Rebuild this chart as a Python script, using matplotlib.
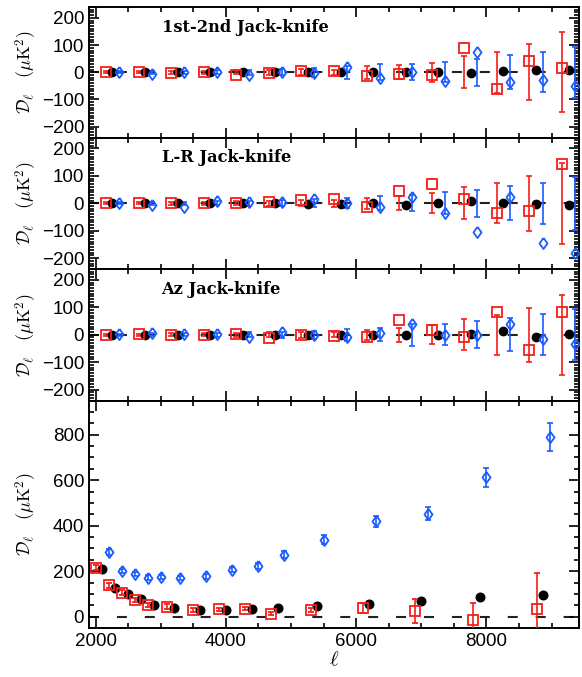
import numpy as np
import matplotlib
matplotlib.use("Agg")
import matplotlib.pyplot as plt
from matplotlib.ticker import MultipleLocator

plt.rcParams['font.family'] = ['Liberation Sans', 'DejaVu Sans']
plt.rcParams['mathtext.fontset'] = 'cm'

# ---------------- data ----------------
ell_null = [2260, 2760, 3260, 3760, 4260, 4760, 5260, 5760, 6260, 6760, 7260, 7760, 8260, 8760, 9260]

# 1st-2nd jack-knife
p1_red = [0, 0, -2, 1, -11, -4, 4, 4, -15, -5, -10, 89, -63, 40, 16]
p1_black = [0, 0, 0, 0, 0, 0, 0, 0, 0, 0, 0, -3, 5, 10, 7]
p1_blue = [0, -6, 1, 1, -10, 0, -4, 20, -21, 0, -34, 73, -37, -29, -49]
p1_red_err = [3, 4, 5, 6, 7, 9, 11, 10, 24, 26, 35, 58, 76, 103, 148]
p1_blue_err = [4, 5, 6, 7, 9, 11, 17, 23, 29, 30, 37, 50, 62, 74, 93]

# L-R jack-knife
p2_red = [0, 0, 0, 2, 0, 5, 12, 15, -13, 43, 72, 17, -37, -28, 145]
p2_black = [0, 0, 0, 0, 0, 0, -1, -2, 0, -5, 0, 8, 2, -1, -6]
p2_blue = [2, -5, -15, 7, 5, 6, 16, 0, -12, 21, -34, -104, 24, -144, -180]
p2_red_err = [3, 4, 5, 6, 7, 9, 11, 12, 20, 25, 36, 59, 73, 100, 147]
p2_blue_err = [4, 5, 6, 7, 9, 11, 15, 18, 25, 30, 40, 49, 62, 74, 97]

# Az jack-knife
p3_red = [0, 3, 0, 0, 4, -12, 0, -5, -7, 54, 16, -10, 84, -54, 83]
p3_black = [0, 0, 0, 0, 0, 0, 0, -1, -2, 0, -2, 2, 13, -7, 2]
p3_blue = [1, 5, 2, 4, -8, 10, -1, -7, 7, 39, 0, -2, 38, -17, -35]
p3_red_err = [3, 4, 5, 6, 7, 9, 11, 10, 18, 25, 34, 57, 73, 99, 146]
p3_blue_err = [4, 5, 6, 7, 9, 11, 15, 21, 24, 40, 38, 50, 60, 75, 93]

black_null_err = [1, 1, 1, 1, 1, 1, 2, 2, 3, 3, 4, 5, 6, 8, 10]

panel_titles = ['1st-2nd Jack-knife', 'L-R Jack-knife', 'Az Jack-knife']

# bandpowers
ell_bp = [2100, 2300, 2500, 2700, 2900, 3200, 3600, 4000, 4400, 4800, 5400, 6200, 7000, 7900, 8870]
bp_black = [210, 127, 98, 76, 53, 39, 29, 29, 35, 36, 47, 57, 70, 88, 95]
bp_red = [215, 137, 105, 73, 51, 44, 29, 32, 35, 13, 29, 39, 25, -16, 32]
bp_red_err = [10, 10, 10, 10, 10, 10, 8, 8, 8, 8, 8, 22, 51, 78, 161]
bp_blue = [283, 201, 188, 171, 175, 169, 178, 206, 222, 273, 339, 419, 453, 612, 791]
bp_blue_err = [14, 10, 10, 10, 10, 10, 11, 12, 12, 15, 18, 25, 28, 42, 62]

# ---------------- style ----------------
RED = '#f41f1a'
BLUE = '#1a5cff'
dx = 100
diamond = [(0, 1), (0.72, 0), (0, -1), (-0.72, 0), (0, 1)]

W, H = 582, 677
fig = plt.figure(figsize=(W / 100, H / 100), dpi=100)

left = 89 / W
width = (579 - 89) / W
edges = [7, 137.5, 269, 400.5, 628]


def make_ax(i):
    top, bot = edges[i], edges[i + 1]
    return fig.add_axes([left, 1 - bot / H, width, (bot - top) / H])


def style(ax, ymaj, ymin):
    ax.set_xlim(1900, 9420)
    ax.xaxis.set_major_locator(MultipleLocator(2000))
    ax.xaxis.set_minor_locator(MultipleLocator(500))
    ax.yaxis.set_major_locator(MultipleLocator(ymaj))
    ax.yaxis.set_minor_locator(MultipleLocator(ymin))
    ax.tick_params(which='both', direction='in', top=True, right=True, labelsize=13.5, width=1.2)
    ax.tick_params(which='major', length=7)
    ax.tick_params(which='minor', length=3.5)
    for s in ax.spines.values():
        s.set_linewidth(1.4)


def zero_line(ax):
    ax.axhline(0, color='#222222', lw=1.5, ls=(0, (4.8, 8.6)), zorder=1)


null_sets = [
    (p1_red, p1_black, p1_blue, p1_red_err, p1_blue_err),
    (p2_red, p2_black, p2_blue, p2_red_err, p2_blue_err),
    (p3_red, p3_black, p3_blue, p3_red_err, p3_blue_err),
]

ell_n = np.array(ell_null)
for i, (r, k, b, re, be) in enumerate(null_sets):
    ax = make_ax(i)
    zero_line(ax)
    # error bars centred on zero (null expectation)
    ax.errorbar(ell_n - dx, np.zeros(len(ell_n)), yerr=re, fmt='none', ecolor=RED,
                elinewidth=1.2, capsize=2.5, capthick=1.2, zorder=2)
    ax.errorbar(ell_n + dx, np.zeros(len(ell_n)), yerr=be, fmt='none', ecolor=BLUE,
                elinewidth=1.2, capsize=2.5, capthick=1.2, zorder=2)
    ax.errorbar(ell_n, k, yerr=black_null_err, fmt='o', color='black', ms=6,
                elinewidth=1.2, capsize=2, zorder=3)
    ax.plot(ell_n - dx, r, ls='none', marker='s', ms=6.8, mfc='none', mec=RED, mew=1.3, zorder=4)
    ax.plot(ell_n + dx, b, ls='none', marker=diamond, ms=8, mfc='none', mec=BLUE, mew=1.3, zorder=4)
    ax.set_ylim(-240, 240)
    style(ax, 100, 10)
    ax.set_xticklabels([])
    ax.text(0.148, 0.845, panel_titles[i], transform=ax.transAxes, ha='left', va='center',
            fontsize=11.7, fontweight='bold', family=['DejaVu Serif'])
    yc = 1 - (edges[i] + edges[i + 1]) / 2 / H
    fig.text(26 / W, yc, r'$\mathcal{D}_\ell$   $(\mu\mathrm{K}^2)$', rotation=90,
             ha='center', va='center', fontsize=13)

# bottom panel
ax = make_ax(3)
zero_line(ax)
e_bp = np.array(ell_bp)
ax.errorbar(e_bp - dx, bp_red, yerr=bp_red_err, fmt='s', ms=6.8, mfc='none', mec=RED, mew=1.3,
            ecolor=RED, elinewidth=1.2, capsize=2.5, capthick=1.2, zorder=3)
ax.plot(e_bp, bp_black, ls='none', marker='o', color='black', ms=6.2, zorder=2)
ax.errorbar(e_bp + dx, bp_blue, yerr=bp_blue_err, fmt='none', ecolor=BLUE,
            elinewidth=1.2, capsize=2.5, capthick=1.2, zorder=3)
ax.plot(e_bp + dx, bp_blue, ls='none', marker=diamond, ms=8, mfc='none', mec=BLUE, mew=1.3, zorder=4)
ax.set_ylim(-50, 950)
style(ax, 200, 50)
ax.set_xlabel(r'$\ell$', fontsize=15, labelpad=0)
yc = 1 - (edges[3] + edges[4]) / 2 / H
fig.text(26 / W, yc, r'$\mathcal{D}_\ell$   $(\mu\mathrm{K}^2)$', rotation=90,
         ha='center', va='center', fontsize=13)

fig.savefig('out.png', dpi=100)
